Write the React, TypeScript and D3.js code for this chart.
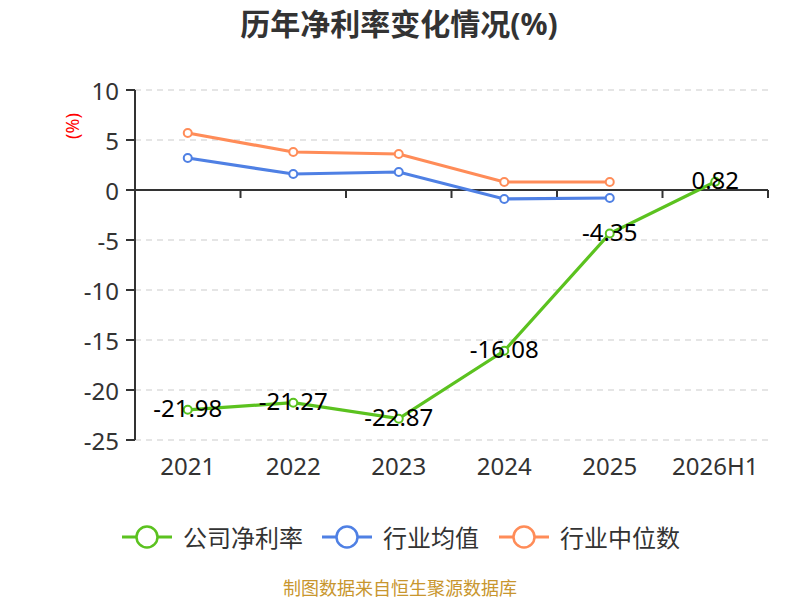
import React from "react";
import * as d3 from "d3";

const categories = ["2021", "2022", "2023", "2024", "2025", "2026H1"];
const companyValues = [-21.98, -21.27, -22.87, -16.08, -4.35, 0.82];
const industryAvg = [3.2, 1.6, 1.8, -0.9, -0.8];
const industryMedian = [5.7, 3.8, 3.6, 0.8, 0.8];
const yTicks = [10, 5, 0, -5, -10, -15, -20, -25];
const seriesNames = ["公司净利率", "行业均值", "行业中位数"];
const colors = ["#5bc21f", "#4f80e4", "#ff8c58"];

const W = 800;
const H = 600;
const left = 135;
const right = 768;
const top = 90;
const bottom = 440;
const FONT = "'Noto Sans', 'Noto Sans CJK SC', sans-serif";

export default function App() {
  const x = d3.scaleBand<string>().domain(categories).range([left, right]);
  const cx = (c: string) => (x(c) as number) + x.bandwidth() / 2;
  const y = d3.scaleLinear().domain([-25, 10]).range([bottom, top]);
  const line = d3
    .line<[string, number]>()
    .x((d) => cx(d[0]))
    .y((d) => y(d[1]));

  const series: [string, number][][] = [
    companyValues.map((v, i) => [categories[i], v] as [string, number]),
    industryAvg.map((v, i) => [categories[i], v] as [string, number]),
    industryMedian.map((v, i) => [categories[i], v] as [string, number]),
  ];

  const boundaries = categories.map((c) => x(c) as number).concat([right]);

  const legendItems = [
    { lineX: 122, textX: 183 },
    { lineX: 322, textX: 383 },
    { lineX: 499, textX: 560 },
  ];
  const legendY = 537;

  return (
    <svg width={W} height={H} style={{ display: "block", position: "absolute", left: 0, top: 0 }} fontFamily={FONT}>
      <rect width={W} height={H} fill="#fff" />
      <text x={399} y={23} textAnchor="middle" dominantBaseline="central" fontSize={30} fontWeight="bold" fill="#333">
        历年净利率变化情况(%)
      </text>
      <text
        transform={`translate(72,126) rotate(-90)`}
        textAnchor="middle"
        dominantBaseline="central"
        fontSize={18}
        fill="#ff0000"
      >
        (%)
      </text>
      {yTicks.filter((t) => t !== 0).map((t) => (
        <line key={t} x1={left} x2={right} y1={y(t)} y2={y(t)} stroke="#ccc" strokeWidth={1.2} strokeDasharray="6,5" />
      ))}
      <line x1={left} x2={left} y1={top} y2={bottom} stroke="#333" strokeWidth={2} />
      {yTicks.map((t) => (
        <g key={t}>
          <line x1={left - 9} x2={left} y1={y(t)} y2={y(t)} stroke="#333" strokeWidth={2} />
          <text x={left - 16} y={y(t)} textAnchor="end" dominantBaseline="central" fontSize={24} fill="#333">
            {t}
          </text>
        </g>
      ))}
      <line x1={left} x2={right} y1={y(0)} y2={y(0)} stroke="#333" strokeWidth={2} />
      {boundaries.map((b, i) => (
        <line key={i} x1={b} x2={b} y1={y(0)} y2={y(0) + 8} stroke="#333" strokeWidth={2} />
      ))}
      {categories.map((c) => (
        <text key={c} x={cx(c)} y={465} textAnchor="middle" dominantBaseline="central" fontSize={24} fill="#333">
          {c}
        </text>
      ))}
      {series.map((s, i) => (
        <g key={i}>
          <path d={line(s) || ""} fill="none" stroke={colors[i]} strokeWidth={3.2} />
          {s.map((d, j) => (
            <circle key={j} cx={cx(d[0])} cy={y(d[1])} r={4} fill="#fff" stroke={colors[i]} strokeWidth={2} />
          ))}
        </g>
      ))}
      {series[0].map((d, j) => (
        <text key={j} x={cx(d[0])} y={y(d[1]) - 2} textAnchor="middle" dominantBaseline="central" fontSize={24} fill="#000">
          {d[1].toFixed(2)}
        </text>
      ))}
      {legendItems.map((it, i) => (
        <g key={i}>
          <line x1={it.lineX} x2={it.lineX + 50} y1={legendY} y2={legendY} stroke={colors[i]} strokeWidth={3} />
          <circle cx={it.lineX + 25} cy={legendY} r={10.5} fill="#fff" stroke={colors[i]} strokeWidth={2.5} />
          <text x={it.textX} y={legendY} dominantBaseline="central" fontSize={24} fill="#333">
            {seriesNames[i]}
          </text>
        </g>
      ))}
      <text x={400} y={588} textAnchor="middle" dominantBaseline="central" fontSize={18} fill="#c8962e">
        制图数据来自恒生聚源数据库
      </text>
    </svg>
  );
}
